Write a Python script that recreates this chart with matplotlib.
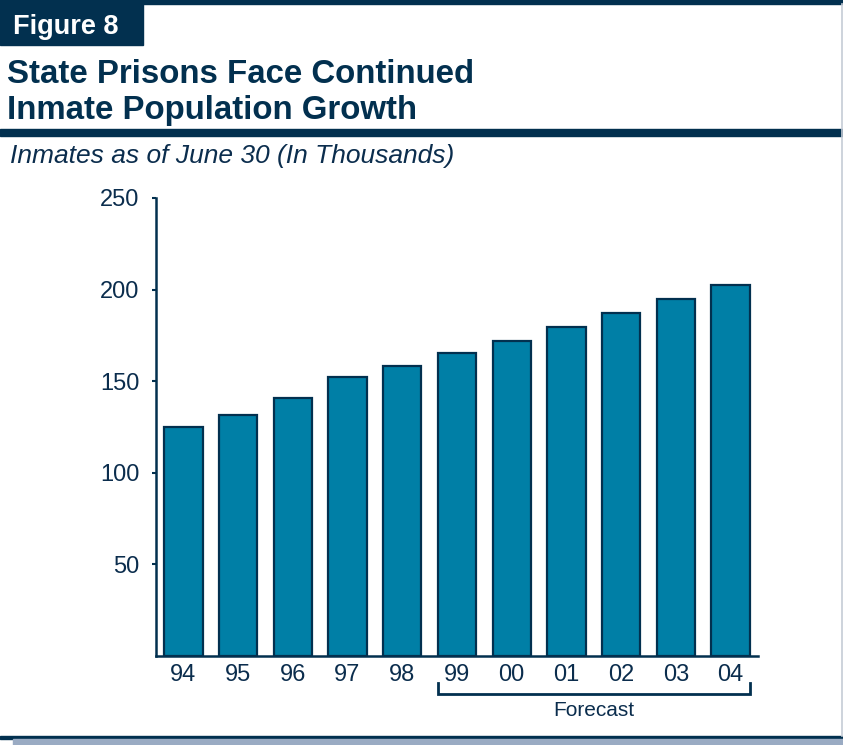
import matplotlib
matplotlib.use("Agg")
import matplotlib.pyplot as plt
from matplotlib.patches import Rectangle
from matplotlib.lines import Line2D
import matplotlib.transforms as mtransforms

plt.rcParams['font.family'] = ['Liberation Sans', 'DejaVu Sans']

# data (inmates as of June 30, thousands)
years = ['94', '95', '96', '97', '98', '99', '00', '01', '02', '03', '04']
inmates = [125, 131.5, 141, 152.5, 158.2, 165.3, 172, 179.5, 187.5, 195, 202.3]
forecast_start = '99'
y_ticks = [50, 100, 150, 200, 250]

navy = '#02304f'
bar_fill = '#007fa6'
text_col = '#0b2d4d'

W, H = 843, 745
fig = plt.figure(figsize=(W / 100, H / 100), dpi=100)

def fx(x):
    return x / W

def fy(y):
    return 1 - y / H

# header / frame decoration
fig.patches.append(Rectangle((0, fy(4)), 1, fy(0) - fy(4), transform=fig.transFigure, color=navy))
fig.patches.append(Rectangle((0, fy(45)), fx(143), fy(0) - fy(45), transform=fig.transFigure, color=navy))
fig.patches.append(Rectangle((0, fy(136)), 1, fy(129) - fy(136), transform=fig.transFigure, color=navy))
fig.patches.append(Rectangle((0, fy(739)), 1, fy(736) - fy(739), transform=fig.transFigure, color=navy))
fig.patches.append(Rectangle((fx(13), 0), 1, fy(739), transform=fig.transFigure, color='#9aabc3'))
fig.lines.append(Line2D([fx(841.5), fx(841.5)], [fy(4), fy(736)], transform=fig.transFigure, color='#c5ccd6', lw=1.2))

fig.text(fx(13), fy(34), 'Figure 8', color='white', fontsize=19.5, fontweight='bold', va='baseline')
fig.text(fx(7), fy(83), 'State Prisons Face Continued', color=navy, fontsize=23.8, fontweight='bold', va='baseline')
fig.text(fx(7), fy(119), 'Inmate Population Growth', color=navy, fontsize=23.8, fontweight='bold', va='baseline')
fig.text(fx(10), fy(163), 'Inmates as of June 30 (In Thousands)', color=text_col, fontsize=19, style='italic', va='baseline')

ax = fig.add_axes([fx(156), fy(656), fx(758) - fx(156), fy(198) - fy(656)])
x = list(range(len(years)))
bw = 0.7
ax.bar(x, inmates, width=bw, color=bar_fill, edgecolor=navy, linewidth=1.6, zorder=2)

ax.set_xlim(-0.5, len(years) - 0.5)
ax.set_ylim(0, 250)
ax.set_yticks(y_ticks)
ax.set_xticks(x)
ax.set_xticklabels(years)
for s in ['top', 'right']:
    ax.spines[s].set_visible(False)
for s in ['left', 'bottom']:
    ax.spines[s].set_color(navy)
    ax.spines[s].set_linewidth(1.8)
ax.tick_params(axis='y', length=3, width=1.5, color=navy, pad=9, labelsize=17, labelcolor=text_col)
ax.tick_params(axis='x', length=0, pad=6, labelsize=17, labelcolor=text_col)

# forecast bracket
i0 = years.index(forecast_start)
i1 = len(years) - 1
trans = mtransforms.blended_transform_factory(ax.transData, ax.transAxes)
bx0, bx1 = i0 - bw / 2, i1 + bw / 2
ax.plot([bx0, bx0, bx1, bx1], [-0.059, -0.083, -0.083, -0.059], transform=trans,
        color=navy, lw=2, clip_on=False, solid_joinstyle='miter')
ax.text((bx0 + bx1) / 2, -0.12, 'Forecast', transform=trans, ha='center', va='center',
        fontsize=15, color=text_col)

fig.savefig('out.png', dpi=100)
